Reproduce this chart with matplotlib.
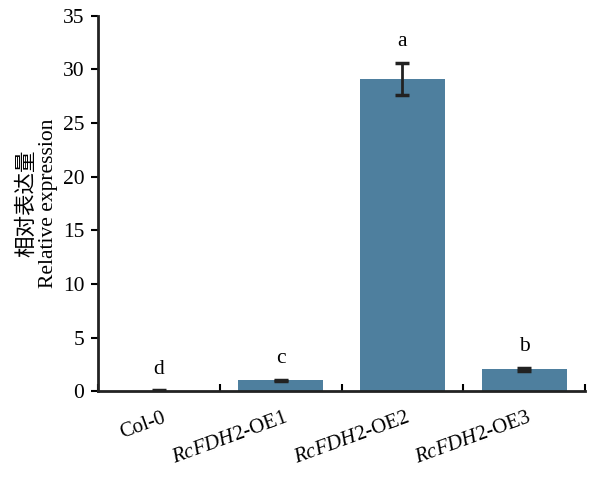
import matplotlib
matplotlib.use('Agg')
import matplotlib.pyplot as plt
import matplotlib.transforms as mtransforms
import numpy as np

plt.rcParams['font.family'] = ['Liberation Serif', 'Noto Sans CJK SC']
plt.rcParams['mathtext.fontset'] = 'custom'
plt.rcParams['mathtext.rm'] = 'Liberation Serif'
plt.rcParams['mathtext.it'] = 'Liberation Serif:italic'

lines = ['Col-0', 'RcFDH2-OE1', 'RcFDH2-OE2', 'RcFDH2-OE3']
values = [0.02, 1.0, 29.1, 2.05]
errors = [0.05, 0.08, 1.5, 0.12]
letters = ['d', 'c', 'a', 'b']

tick_labels = []
for name in lines:
    if name.startswith('RcFDH2'):
        tick_labels.append(r'$\mathit{RcFDH2}$' + name[6:])
    else:
        tick_labels.append(name)

fig = plt.figure(figsize=(5.91, 4.8), dpi=100)
ax = fig.add_axes([0.166, 0.185, 0.824, 0.782])

x = np.arange(len(lines))
ax.bar(x, values, width=0.7, color='#4e7f9e', zorder=2)
ax.errorbar(x, values, yerr=errors, fmt='none', ecolor='#222222',
            elinewidth=2, capsize=5, capthick=2.5, zorder=3)
for i in range(len(lines)):
    ax.text(x[i], values[i] + errors[i] + 1.1, letters[i], ha='center', va='bottom',
            fontsize=15.5)

ax.set_xlim(-0.5, len(lines) - 0.5)
ax.set_ylim(0, 35)
ax.set_yticks(np.arange(0, 36, 5))
ax.set_xticks(np.arange(-0.5, len(lines), 1.0))
ax.set_xticklabels([])
ax.tick_params(axis='x', direction='in', length=5, width=1.5)
ax.tick_params(axis='y', direction='out', length=5, width=1.5, labelsize=15.5, pad=5)

offset = mtransforms.ScaledTranslation(2 / 72, 0, fig.dpi_scale_trans)
for i in range(len(lines)):
    ax.text(x[i], -1.6, tick_labels[i], rotation=20, ha='right', va='top',
            rotation_mode='anchor', fontsize=15,
            transform=ax.transData + offset)

for s in ['top', 'right']:
    ax.spines[s].set_visible(False)
for s in ['left', 'bottom']:
    ax.spines[s].set_linewidth(2)
    ax.spines[s].set_color('#222222')

ax.set_ylabel('相对表达量\nRelative expression', fontsize=15.5, linespacing=1.15,
              labelpad=3)

fig.savefig('out.png', dpi=100)
